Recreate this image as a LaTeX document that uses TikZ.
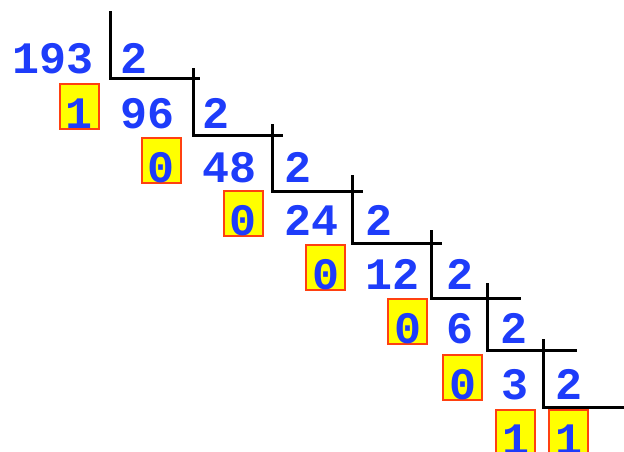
\documentclass[tikz,border=0pt]{standalone}
\usepackage{fontspec}
\setmonofont{Liberation Mono}
\definecolor{digit}{RGB}{30,60,250}
\definecolor{boxfill}{RGB}{255,255,0}
\definecolor{boxline}{RGB}{255,64,16}
\begin{document}
\begin{tikzpicture}[x=1pt,y=-1pt,
  num/.style={font=\ttfamily\bfseries\fontsize{45}{45}\selectfont, text=digit, inner sep=0pt, anchor=base west},
  rem/.style={font=\ttfamily\bfseries\fontsize{45}{45}\selectfont, text=digit, draw=boxline, line width=2pt, fill=boxfill, inner sep=0pt, minimum width=39pt, text height=44pt, text depth=1pt, anchor=base},
  bracket/.style={line width=3pt, black}]
\useasboundingbox (0,0) rectangle (624,451);
% brackets
\draw[bracket] (110,11) -- (110,78) -- (200,78);
\draw[bracket] (193,68) -- (193,135) -- (283,135);
\draw[bracket] (272,124) -- (272,191) -- (363,191);
\draw[bracket] (352,175) -- (352,243) -- (442,243);
\draw[bracket] (431,230) -- (431,298) -- (521,298);
\draw[bracket] (487,283) -- (487,350) -- (577,350);
\draw[bracket] (543,339) -- (543,407) -- (630,407);
% dividends
\node[num] (n1) at (12,73) {193};
\node[num] (n2) at (120,128) {96};
\node[num] (n3) at (202,182) {48};
\node[num] (n4) at (284,235) {24};
\node[num] (n5) at (365,289) {12};
\node[num] (n6) at (446,343) {6};
\node[num] (n7) at (501,399) {3};
% divisors
\node[num] (d1) at (120,73) {2};
\node[num] (d2) at (202,128) {2};
\node[num] (d3) at (284,182) {2};
\node[num] (d4) at (365,235) {2};
\node[num] (d5) at (446,289) {2};
\node[num] (d6) at (500,343) {2};
\node[num] (d7) at (555,399) {2};
% remainders
\node[rem] (r1) at (79.5,128) {1};
\node[rem] (r2) at (161,182) {0};
\node[rem] (r3) at (243.5,235) {0};
\node[rem] (r4) at (325.5,289) {0};
\node[rem] (r5) at (407.5,343) {0};
\node[rem] (r6) at (462.5,399) {0};
\node[rem] (r7) at (515.5,454) {1};
\node[rem] (q) at (568.5,454) {1};
\end{tikzpicture}
\end{document}
